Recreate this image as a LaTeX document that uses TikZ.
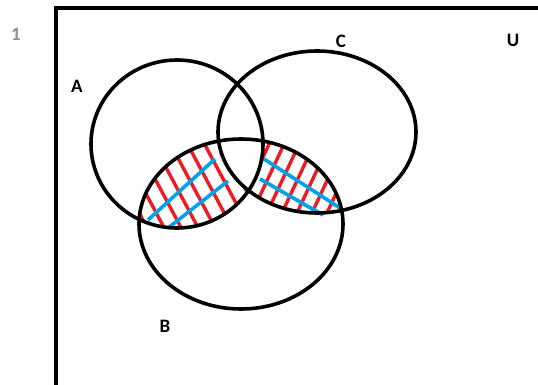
\documentclass[tikz,border=0pt]{standalone}
\usepackage{fontspec}
\setmainfont{Carlito}
\definecolor{pred}{RGB}{237,28,36}
\definecolor{pblue}{RGB}{0,162,232}
\definecolor{pgray}{RGB}{140,144,152}
\begin{document}
\begin{tikzpicture}[x=1pt,y=-1pt,
  setline/.style={line width=3.6pt, black},
  framel/.style={line width=4pt, black},
  redhatch/.style={line width=3.4pt, pred},
  bluehatch/.style={line width=3.6pt, pblue},
  lbl/.style={font=\bfseries\fontsize{19}{19}\selectfont, inner sep=0pt}]
\useasboundingbox (0,0) rectangle (538,385);
\fill[white] (0,0) rectangle (538,385);
% frame
\draw[framel] (56,390) -- (56,8) -- (545,8);
% hatching left region (A and B, not C)
\begin{scope}
  \clip (177,144) ellipse [x radius=86, y radius=84];
  \clip (241,224) ellipse [x radius=102, y radius=85];
  \foreach \x in {110,127,...,280}
    \draw[redhatch] (\x-40,115) -- (\x+40,265);
\end{scope}
% hatching right region (B and C, not A)
\begin{scope}
  \clip (317,132) ellipse [x radius=99, y radius=81];
  \clip (241,224) ellipse [x radius=102, y radius=85];
  \foreach \x in {220,235,...,380}
    \draw[redhatch] (\x+35,110) -- (\x-35,260);
\end{scope}
% blank triple intersection
\begin{scope}
  \clip (177,144) ellipse [x radius=86, y radius=84];
  \clip (317,132) ellipse [x radius=99, y radius=81];
  \fill[white] (241,224) ellipse [x radius=102, y radius=85];
\end{scope}
% blue lines
\draw[bluehatch] (148,220) -- (215,159);
\draw[bluehatch] (168,228) -- (228,181);
\draw[bluehatch] (264,159) -- (340,208);
\draw[bluehatch] (260,179) -- (323,215);
% circles
\draw[setline] (177,144) ellipse [x radius=86, y radius=84];
\draw[setline] (317,132) ellipse [x radius=99, y radius=81];
\draw[setline] (241,224) ellipse [x radius=102, y radius=85];
% labels
\node[lbl, text=pgray] (n1) at (16,34) {1};
\node[lbl] (lA) at (77,86) {A};
\node[lbl] (lC) at (341,41) {C};
\node[lbl] (lU) at (513,40) {U};
\node[lbl] (lB) at (165,326) {B};
\end{tikzpicture}
\end{document}
